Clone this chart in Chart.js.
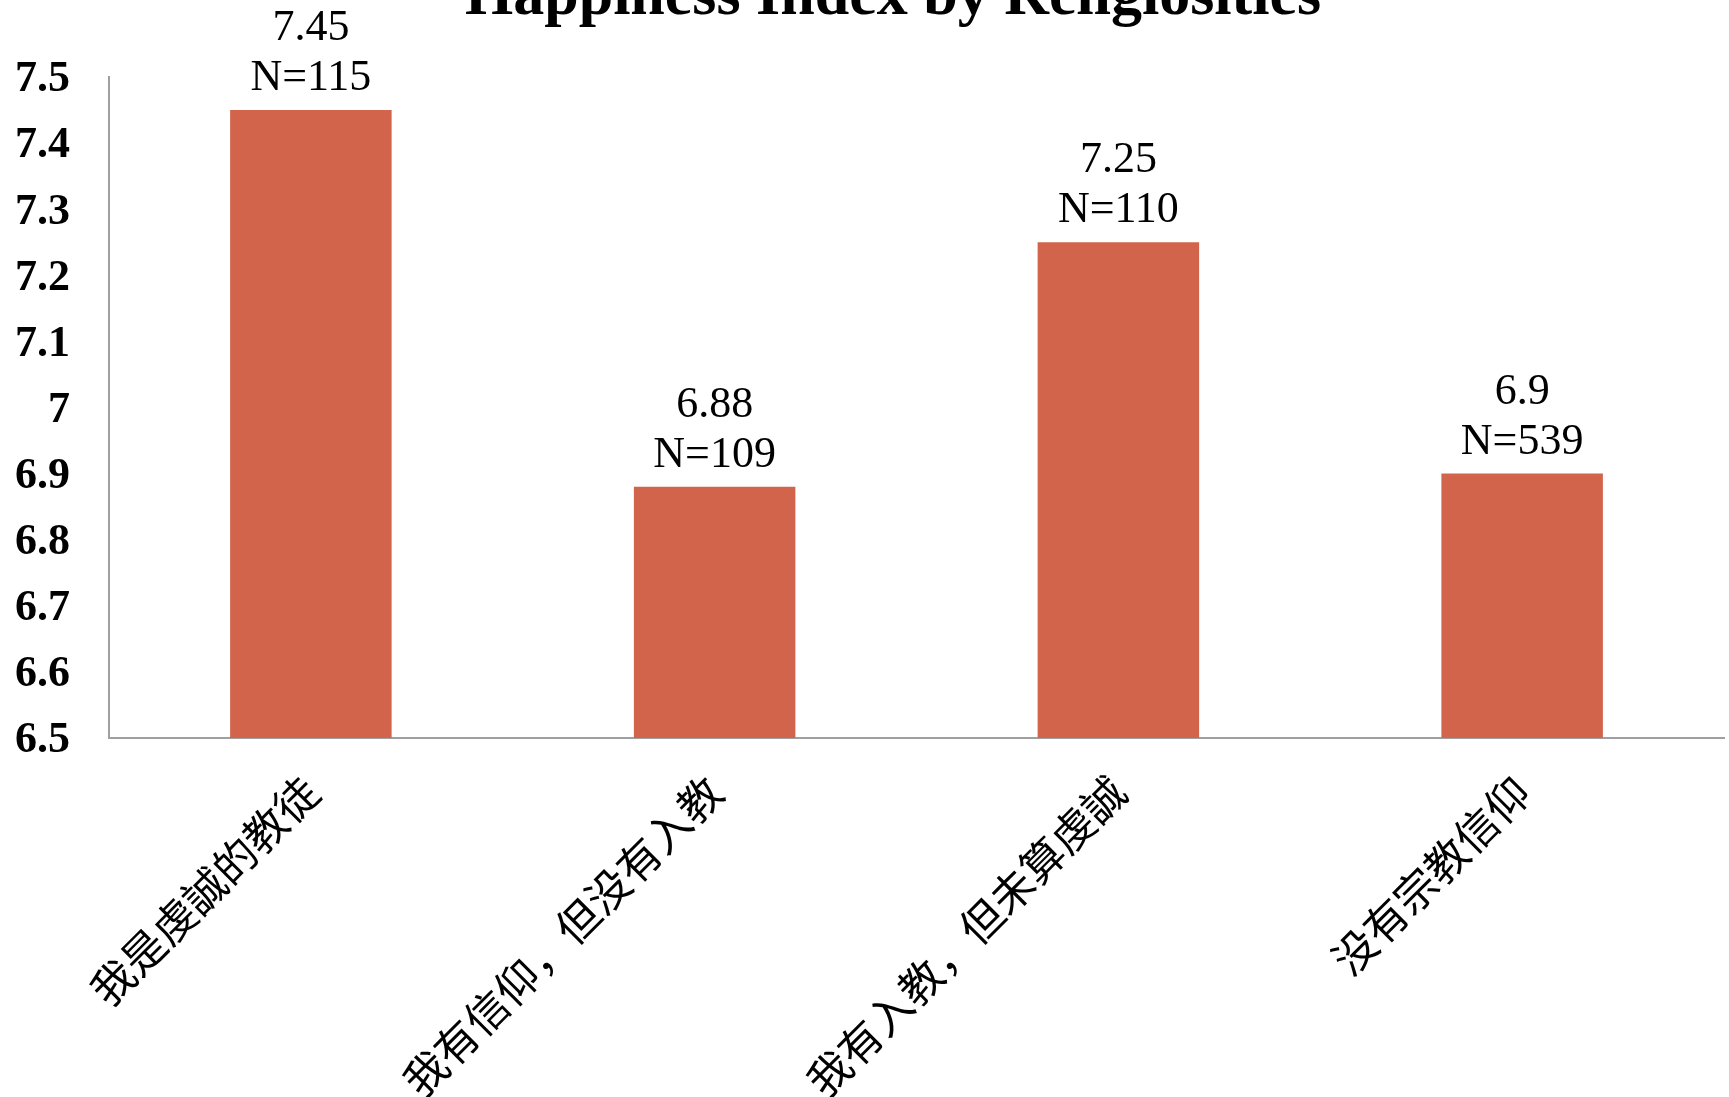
<!DOCTYPE html>
<html><head><meta charset="utf-8">
<script src="https://cdn.jsdelivr.net/npm/chart.js@4/dist/chart.umd.min.js"></script>
<style>html,body{margin:0;padding:0;background:#fff;overflow:hidden}</style>
</head><body>
<canvas id="c" width="1729" height="1097"></canvas>
<script>
const TITLE = 'Happiness Index by Religiosities';
const categories = ['我是虔誠的教徒', '我有信仰，但没有入教', '我有入教，但未算虔誠', '没有宗教信仰'];
const happiness = [7.45, 6.88, 7.25, 6.9];
const valueLabels = ['7.45', '6.88', '7.25', '6.9'];
const sampleSizes = [115, 109, 110, 539];
const yTickLabels = ['6.5', '6.6', '6.7', '6.8', '6.9', '7', '7.1', '7.2', '7.3', '7.4', '7.5'];

const barLabelPlugin = {
  id: 'barLabels',
  afterDatasetsDraw(chart) {
    const ctx = chart.ctx;
    const meta = chart.getDatasetMeta(0);
    ctx.save();
    ctx.fillStyle = '#000';
    ctx.font = '44px "Liberation Serif"';
    ctx.textAlign = 'center';
    ctx.textBaseline = 'alphabetic';
    meta.data.forEach((bar, i) => {
      ctx.fillText('N=' + sampleSizes[i], bar.x, bar.y - 20);
      ctx.fillText(valueLabels[i], bar.x, bar.y - 70);
    });
    ctx.restore();
  }
};
const titlePlugin = {
  id: 'cutTitle',
  afterDraw(chart) {
    const ctx = chart.ctx;
    ctx.save();
    ctx.fillStyle = '#000';
    ctx.font = 'bold 62px "Liberation Serif"';
    ctx.textAlign = 'center';
    ctx.textBaseline = 'alphabetic';
    ctx.fillText(TITLE, 893, 14);
    ctx.restore();
  }
};

new Chart(document.getElementById('c'), {
  type: 'bar',
  data: {
    labels: categories,
    datasets: [{
      data: happiness,
      backgroundColor: '#D2644B',
      borderWidth: 0,
      barPercentage: 0.4,
      categoryPercentage: 1.0
    }]
  },
  options: {
    responsive: false,
    devicePixelRatio: 1,
    animation: false,
    layout: { padding: { top: 77, right: 5, left: 0, bottom: 0 } },
    plugins: { legend: { display: false }, tooltip: { enabled: false }, title: { display: false } },
    scales: {
      x: {
        grid: { display: false, drawTicks: false },
        border: { display: true, color: '#a0a0a0', width: 2 },
        ticks: {
          autoSkip: false, minRotation: 45, maxRotation: 45, padding: 28,
          color: '#000', font: { family: '"Noto Sans CJK SC"', size: 43 }
        },
        afterFit: s => { s.height = 1097 - 738; }
      },
      y: {
        min: 6.5, max: 7.5,
        grid: { display: false, drawTicks: false },
        border: { display: true, color: '#a0a0a0', width: 2 },
        ticks: {
          stepSize: 0.1, padding: 39, labelOffset: 3, color: '#000',
          font: { family: '"Liberation Serif"', size: 44, weight: 'bold' },
          callback: (v, i) => yTickLabels[i]
        },
        afterFit: s => { s.width = 109; }
      }
    }
  },
  plugins: [barLabelPlugin, titlePlugin]
});
</script>
</body></html>
